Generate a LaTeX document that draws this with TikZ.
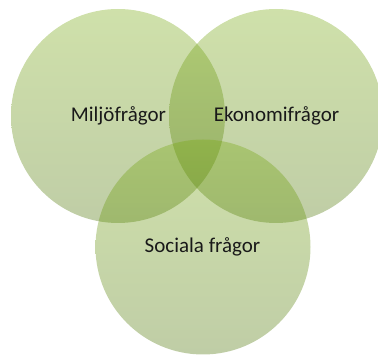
\documentclass[tikz,border=0pt]{standalone}
\usepackage{fontspec}
\setmainfont{Carlito}
\definecolor{gtop}{RGB}{118,168,12}
\definecolor{gbot}{RGB}{72,112,0}
\tikzset{
  venn/.style={circle, minimum size=214pt, inner sep=0pt, top color=gtop, bottom color=gbot, fill opacity=0.35, draw=none},
  lbl/.style={font=\fontsize{21}{25}\selectfont, text=black!90, text opacity=1}
}
\begin{document}
\begin{tikzpicture}[x=1pt,y=-1pt]
\useasboundingbox (0,0) rectangle (378,358);
\begin{scope}
\clip (0,0) rectangle (378,358);
\node[venn] (L) at (118,116) {};
\node[venn] (R) at (276,116) {};
\node[venn, minimum size=215pt] (B) at (203,247) {};
\end{scope}
\node[lbl] (tL) at (118.5,116) {Miljöfrågor};
\node[lbl] (tR) at (276.5,116) {Ekonomifrågor};
\node[lbl] (tB) at (202.5,247) {Sociala frågor};
\end{tikzpicture}
\end{document}
